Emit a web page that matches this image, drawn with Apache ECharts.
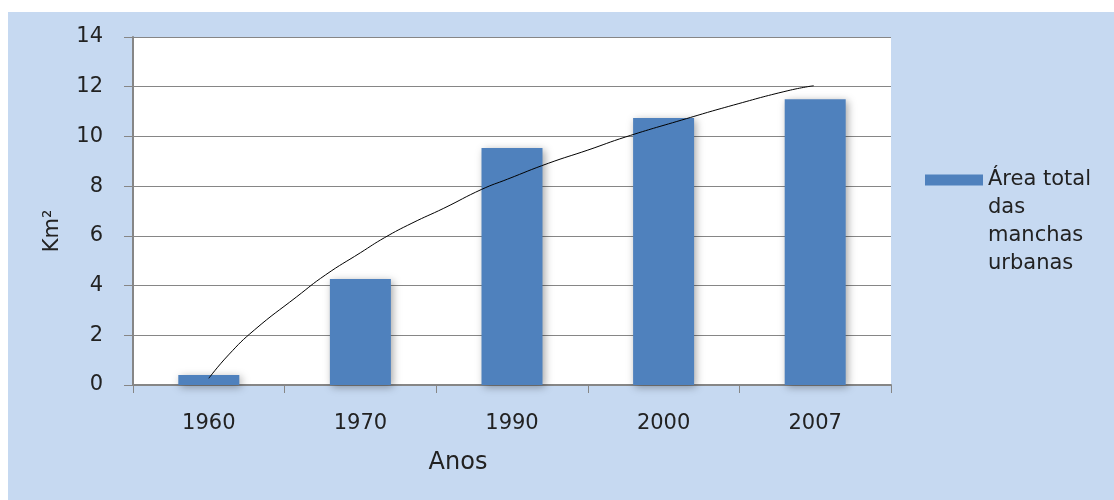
<!DOCTYPE html>
<html>
<head>
<meta charset="utf-8">
<script src="https://cdn.jsdelivr.net/npm/echarts@6/dist/echarts.min.js"></script>
<style>
  html, body { margin: 0; padding: 0; background: #ffffff; }
  #chart { position: absolute; left: 8px; top: 12px; width: 1106px; height: 488px; }
</style>
</head>
<body>
<div id="chart"></div>
<script>
// years on the x axis
const years = ['1960', '1970', '1990', '2000', '2007'];
// total urban area per year (km²)
const areaValues = [0.4, 4.26, 9.53, 10.74, 11.5];
// trendline (x = category index, 0 = 1960)
const trendX = [0, 0.13, 0.3, 0.58, 0.77, 1, 1.16, 1.34, 1.55, 1.8, 1.97, 2.24, 2.5, 2.75, 3.12, 3.46, 3.82, 3.99];
const trendY = [0.27, 1.21, 2.21, 3.55, 4.43, 5.32, 5.93, 6.51, 7.11, 7.87, 8.28, 8.92, 9.45, 9.98, 10.66, 11.26, 11.84, 12.04];
const yTicks = [0, 2, 4, 6, 8, 10, 12, 14];
const seriesName = 'Área total\ndas\nmanchas\nurbanas';

const font = 'DejaVu Sans';
const myChart = echarts.init(document.getElementById('chart'));

const option = {
  backgroundColor: '#c6d9f1',
  animation: false,
  textStyle: { fontFamily: font },
  grid: {
    left: 125,
    right: 223,
    top: 25,
    bottom: 115,
    show: true,
    backgroundColor: '#ffffff',
    borderWidth: 0
  },
  legend: {
    data: [seriesName],
    orient: 'vertical',
    left: 917,
    top: 70,
    padding: 0,
    itemWidth: 58,
    itemHeight: 11,
    itemGap: 0,
    icon: 'rect',
    // blank lines first so the first text line sits next to the swatch
    formatter: function (name) { return '\n\n\n' + name; },
    textStyle: {
      fontFamily: font,
      fontSize: 21,
      color: '#222',
      lineHeight: 28
    }
  },
  xAxis: [
    {
      type: 'category',
      data: years,
      name: 'Anos',
      nameLocation: 'middle',
      nameGap: 66,
      nameTextStyle: { fontFamily: font, fontSize: 24, color: '#222', padding: [0, 108, 0, 0] },
      axisLine: { lineStyle: { color: '#868686', width: 2 } },
      axisTick: { show: true, length: 8, lineStyle: { color: '#868686' } },
      axisLabel: { fontFamily: font, fontSize: 21, color: '#222', margin: 28 }
    },
    {
      type: 'value',
      min: -0.5,
      max: 4.5,
      show: false
    }
  ],
  yAxis: {
    type: 'value',
    min: 0,
    max: 14,
    interval: 2,
    name: 'Km²',
    nameLocation: 'middle',
    nameGap: 70,
    nameRotate: 90,
    nameTextStyle: { fontFamily: font, fontSize: 21, color: '#222', padding: [0, 40, 0, 0] },
    axisLine: { show: true, onZero: false, lineStyle: { color: '#868686', width: 2 } },
    axisTick: { show: true, length: 9, lineStyle: { color: '#868686' } },
    axisLabel: {
      fontFamily: font,
      fontSize: 21,
      color: '#222',
      margin: 30,
      formatter: function (v) { return yTicks.indexOf(v) >= 0 ? String(v) : ''; }
    },
    splitLine: { lineStyle: { color: '#868686', width: 1 } }
  },
  series: [
    {
      name: seriesName,
      type: 'bar',
      xAxisIndex: 0,
      barWidth: 61,
      data: areaValues,
      itemStyle: {
        color: '#4f81bd',
        shadowBlur: 8,
        shadowColor: 'rgba(0,0,0,0.35)',
        shadowOffsetX: 2,
        shadowOffsetY: 2
      }
    },
    {
      name: 'trend',
      type: 'line',
      xAxisIndex: 1,
      smooth: true,
      showSymbol: false,
      symbol: 'none',
      data: trendX.map((x, i) => [x, trendY[i]]),
      lineStyle: { color: '#000000', width: 1 },
      z: 5
    }
  ]
};

myChart.setOption(option);

window.addEventListener('resize', function () {
  myChart.resize();
});
</script>
</body>
</html>
